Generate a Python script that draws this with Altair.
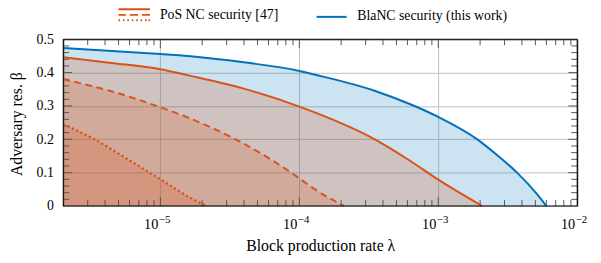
import altair as alt
import pandas as pd

# ---- data ----
blue_lam = [2e-6, 1e-5, 1.58e-5, 3.98e-5, 1e-4, 1.26e-4, 3.52e-4, 6.3e-4, 1e-3, 1.92e-3, 2.66e-3, 3.69e-3, 5.1e-3, 6.0e-3]
blue_beta = [0.474, 0.456, 0.450, 0.431, 0.405, 0.395, 0.345, 0.305, 0.267, 0.199, 0.152, 0.100, 0.037, 0.0]

solid_lam = [2e-6, 4.44e-6, 1e-5, 1.62e-5, 3.98e-5, 1e-4, 1.32e-4, 3.52e-4, 6.3e-4, 1e-3, 2.07e-3]
solid_beta = [0.446, 0.429, 0.410, 0.391, 0.352, 0.298, 0.279, 0.199, 0.135, 0.079, 0.0]

dashed_lam = [2e-6, 4.44e-6, 1e-5, 1.67e-5, 3.98e-5, 1e-4, 1.24e-4, 2.1e-4]
dashed_beta = [0.380, 0.344, 0.296, 0.261, 0.187, 0.083, 0.055, 0.0]

dotted_lam = [2e-6, 3.39e-6, 5.82e-6, 1e-5, 1.62e-5, 2.14e-5]
dotted_beta = [0.245, 0.199, 0.140, 0.080, 0.026, 0.0]

legend_labels = ["PoS NC security [47]", "BlaNC security (this work)"]
x_title = "Block production rate λ"
y_title = "Adversary res. β"

x_label_values = [1e-5, 1e-4, 1e-3, 1e-2]
x_label_exps = ["−5", "−4", "−3", "−2"]
x_major_ticks = [1e-5, 1e-4, 1e-3]
x_minor_ticks = [float(f"{k}e{e}") for e in range(-6, -2) for k in range(2, 10)]
x_minor_ticks = [v for v in x_minor_ticks if v > 2e-6]
y_label_values = [0, 0.1, 0.2, 0.3, 0.4, 0.5]
y_major_ticks = [0.1, 0.2, 0.3, 0.4]
y_minor_ticks = [round(i * 0.02, 2) for i in range(1, 25) if i % 5 != 0]

rows = []
for name, lams, betas in [("blue", blue_lam, blue_beta), ("solid", solid_lam, solid_beta),
                          ("dashed", dashed_lam, dashed_beta), ("dotted", dotted_lam, dotted_beta)]:
    for l, b in zip(lams, betas):
        rows.append({"series": name, "lam": l, "beta": b})
df = pd.DataFrame(rows)

# ---- style ----
W, H = 521, 169
BLUE = "#0072BD"
ORANGE = "#D95319"
FONT = "Liberation Serif"
TICKC = "#555555"
MAJ, MIN = 9, 6

xscale = alt.Scale(type="log", domain=[2e-6, 1e-2], nice=False)
yscale = alt.Scale(domain=[0, 0.5], nice=False, zero=False)

x_enc = alt.X("lam:Q", scale=xscale, axis=alt.Axis(
    values=x_major_ticks, labels=False, ticks=False, domain=False,
    grid=True, gridColor="#c0c0c0", gridWidth=1,
    title=x_title, titleFont=FONT, titleFontSize=16, titleFontWeight="normal", titleColor="black",
    titleX=W / 2, titleY=45, titleBaseline="alphabetic"))

y_enc = alt.Y("beta:Q", scale=yscale, axis=alt.Axis(
    values=y_label_values, labelExpr="datum.value == 0 ? '0' : format(datum.value, '.1f')",
    labelOverlap=False, labelFlush=False, labelBound=False, ticks=False, domain=False,
    grid=True, gridColor="#c0c0c0", gridWidth=1,
    labelPadding=10, labelFont=FONT, labelFontSize=14, labelColor="black",
    title=y_title, titleFont=FONT, titleFontSize=16, titleFontWeight="normal", titleColor="black",
    titleX=-42.5, titleY=H / 2 + 1, titleBaseline="alphabetic"))

base = alt.Chart(df)

def area(name, color, op):
    return base.transform_filter(alt.datum.series == name).mark_area(
        color=color, opacity=op, interpolate="monotone").encode(x=x_enc, y=y_enc)

def line(name, color, dash=None, width=2):
    kw = dict(color=color, strokeWidth=width, interpolate="monotone")
    if dash:
        kw["strokeDash"] = dash
    return base.transform_filter(alt.datum.series == name).mark_line(**kw).encode(x=x_enc, y=y_enc)

def xticks(vals, size):
    d = alt.Chart(pd.DataFrame({"lam": vals}))
    bottom = d.mark_rule(color=TICKC, strokeWidth=1).encode(x=x_enc, y=alt.value(H), y2=alt.value(H - size))
    top = d.mark_rule(color=TICKC, strokeWidth=1).encode(x=x_enc, y=alt.value(0), y2=alt.value(size))
    return [bottom, top]

def yticks(vals, size):
    d = alt.Chart(pd.DataFrame({"beta": vals}))
    left = d.mark_rule(color=TICKC, strokeWidth=1).encode(y=y_enc, x=alt.value(0), x2=alt.value(size))
    right = d.mark_rule(color=TICKC, strokeWidth=1).encode(y=y_enc, x=alt.value(W), x2=alt.value(W - size))
    return [left, right]

lab_df = pd.DataFrame({"lam": x_label_values, "exp": x_label_exps})
lab_base = alt.Chart(lab_df).mark_text(font=FONT, fontSize=14.5, align="right", baseline="alphabetic",
                                       dx=-2, color="black").encode(x=x_enc, y=alt.value(H + 23), text=alt.value("10"))
lab_sup = alt.Chart(lab_df).mark_text(font=FONT, fontSize=11, align="left", baseline="alphabetic",
                                      dx=-1.5, color="black").encode(x=x_enc, y=alt.value(H + 17.5), text="exp:N")

frame = alt.Chart(pd.DataFrame({"lam": [2e-6]})).mark_rect(
    filled=False, stroke="black", strokeWidth=1, fill="transparent").encode(
    x=alt.value(0), x2=alt.value(W), y=alt.value(0), y2=alt.value(H))

# legend symbols (custom paths)
p_orange = ("M-1,-0.36H1 "
            "M-1,0H-0.54 M-0.28,0H0.23 M0.49,0H1 "
            "M-1,0.34H-0.9 M-0.72,0.34H-0.62 M-0.44,0.34H-0.34 M-0.16,0.34H-0.06 "
            "M0.12,0.34H0.22 M0.4,0.34H0.5 M0.68,0.34H0.78 M0.9,0.34H1")
p_blue = "M-0.95,0.05H0.95"

leg = alt.Legend(orient="none", legendX=55, legendY=-42, direction="horizontal", title=None,
                 symbolSize=1024, symbolStrokeWidth=2, symbolOpacity=1,
                 labelFont=FONT, labelFontSize=14, labelColor="black", labelOffset=9,
                 columnPadding=33, labelLimit=0, padding=0)

legend_layer = base.transform_filter(alt.datum.series == "blue").transform_calculate(
    leg=f"'{legend_labels[1]}'").mark_point(opacity=0, filled=False).encode(
    x=x_enc, y=y_enc,
    color=alt.Color("leg:N", scale=alt.Scale(domain=legend_labels, range=[ORANGE, BLUE]), legend=leg),
    shape=alt.Shape("leg:N", scale=alt.Scale(domain=legend_labels, range=[p_orange, p_blue]), legend=leg),
)

layers = [
    area("blue", BLUE, 0.2),
    area("solid", ORANGE, 0.22),
    area("dashed", ORANGE, 0.22),
    area("dotted", ORANGE, 0.22),
]
layers += xticks(x_minor_ticks, MIN) + xticks(x_major_ticks, MAJ)
layers += yticks(y_minor_ticks, MIN) + yticks(y_major_ticks, MAJ)
layers += [
    line("dotted", ORANGE, [2.2, 2.6], 2.3),
    line("dashed", ORANGE, [7, 4.5]),
    line("solid", ORANGE),
    line("blue", BLUE),
    lab_base, lab_sup, legend_layer, frame,
]

chart = alt.layer(*layers).properties(
    width=W, height=H,
    autosize=alt.AutoSizeParams(type="none"),
    padding={"left": 56, "top": 30, "right": 16, "bottom": 48},
    background="white",
).configure_view(stroke="black", strokeWidth=1)

chart.save("out.html", embed_options={"renderer": "svg", "actions": False})
